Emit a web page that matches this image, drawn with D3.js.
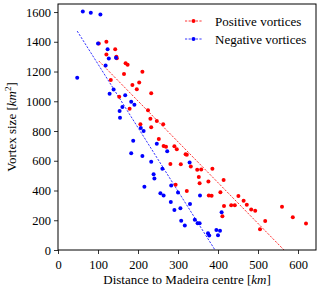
<!DOCTYPE html>
<html>
<head>
<meta charset="utf-8">
<script src="https://cdn.jsdelivr.net/npm/d3@7"></script>
<style>
  body { margin: 0; background: #fff; }
  svg { display: block; font-family: "Liberation Serif", "DejaVu Serif", serif; }
  svg text { font-family: "Liberation Serif", "DejaVu Serif", serif; }
</style>
</head>
<body>
<svg id="chart"></svg>
<script>
// distance to Madeira centre (km), vortex size (km^2)
const positiveX = [102, 121, 121, 143, 146, 147, 169, 174, 165, 211, 132, 203, 186, 197, 233, 153, 179, 225, 231, 247,
  263, 206, 233, 252, 264, 270, 291, 297, 319, 322, 281, 307, 332, 348, 358, 386, 352, 354, 376, 414,
  294, 322, 377, 384, 406, 415, 411, 433, 442, 451, 464, 472, 483, 493, 505, 518, 560, 587, 620];
const positiveY = [1389, 1401, 1315, 1349, 1300, 1290, 1255, 1245, 1184, 1199, 1143, 1126, 1110, 1080, 1054, 1031, 950, 940, 883, 867,
  845, 845, 826, 747, 699, 695, 698, 678, 643, 641, 579, 577, 562, 540, 542, 547, 490, 449, 461, 471,
  439, 396, 367, 364, 388, 296, 227, 301, 301, 363, 331, 305, 273, 264, 140, 195, 290, 221, 178];

const negativeX = [48, 62, 82, 106, 100, 124, 127, 145, 119, 139, 129, 168, 183, 191, 161, 154, 155, 207, 214, 188,
  247, 273, 183, 211, 233, 329, 261, 239, 241, 216, 283, 300, 256, 264, 355, 282, 330, 291, 306, 308,
  317, 342, 349, 354, 375, 378, 396, 405, 400, 409];
const negativeY = [1158, 1604, 1596, 1584, 1389, 1350, 1287, 1292, 1241, 1079, 1051, 1040, 997, 976, 961, 934, 889, 821, 800, 735,
  714, 664, 650, 632, 593, 588, 547, 510, 481, 426, 434, 386, 382, 367, 366, 322, 310, 269, 281, 196,
  165, 203, 180, 180, 112, 98, 135, 129, 100, 254];

// linear fits: [slope, intercept]
const positiveFit = [-2.745, 1551];
const negativeFit = [-4.272, 1677];

const xTicks = [0, 100, 200, 300, 400, 500, 600];
const yTicks = [0, 200, 400, 600, 800, 1000, 1200, 1400, 1600];

const seriesNames = ["Positive vortices", "Negative vortices"];
const seriesColors = ["#ff0000", "#0000ff"];

const dimensions = {
  width: 320,
  height: 292,
  margin: { top: 4, right: 4, bottom: 42, left: 58 }
};
const w = dimensions.width - dimensions.margin.left - dimensions.margin.right;
const h = dimensions.height - dimensions.margin.top - dimensions.margin.bottom;

const svg = d3.select("#chart")
  .attr("width", dimensions.width)
  .attr("height", dimensions.height);

const g = svg.append("g")
  .attr("transform", `translate(${dimensions.margin.left},${dimensions.margin.top})`);

const xScale = d3.scaleLinear().domain([0, 645]).range([0, w]);
const yScale = d3.scaleLinear().domain([0, 1654]).range([h, 0]);

svg.append("defs").append("clipPath").attr("id", "plotClip")
  .append("rect").attr("width", w).attr("height", h);

// axes
const axisX = d3.axisBottom(xScale).tickValues(xTicks).tickFormat(d3.format("d"))
  .tickSizeOuter(0).tickSize(4).tickPadding(3);
const axisY = d3.axisLeft(yScale).tickValues(yTicks).tickFormat(d3.format("d"))
  .tickSizeOuter(0).tickSize(4).tickPadding(3);

const gx = g.append("g").attr("transform", `translate(0,${h})`).call(axisX);
const gy = g.append("g").call(axisY);
[gx, gy].forEach(a => {
  a.attr("font-family", null).attr("font-size", 12.5);
  a.select(".domain").remove();
  a.selectAll("text").attr("fill", "#000");
  a.selectAll("line").attr("stroke", "#000").attr("stroke-width", 0.8);
});
gx.selectAll("text").attr("dy", "0.95em");

// fit lines
const plot = g.append("g").attr("clip-path", "url(#plotClip)");
const fits = [
  { fit: positiveFit, xs: positiveX, color: seriesColors[0] },
  { fit: negativeFit, xs: negativeX, color: seriesColors[1] }
];
fits.forEach(f => {
  const ends = d3.extent(f.xs);
  plot.append("path")
    .datum(ends)
    .attr("d", d3.line()
      .x(d => xScale(d))
      .y(d => yScale(f.fit[0] * d + f.fit[1])))
    .attr("stroke", f.color)
    .attr("stroke-width", 0.8)
    .attr("stroke-dasharray", "2.2,1.4")
    .attr("fill", "none");
});

// points
function drawPoints(xs, ys, color) {
  plot.append("g").selectAll("circle")
    .data(xs.map((x, i) => ({ x, y: ys[i] })))
    .join("circle")
    .attr("cx", d => xScale(d.x))
    .attr("cy", d => yScale(d.y))
    .attr("r", 2)
    .attr("fill", color);
}
drawPoints(positiveX, positiveY, seriesColors[0]);
drawPoints(negativeX, negativeY, seriesColors[1]);

// frame
g.append("rect")
  .attr("width", w).attr("height", h)
  .attr("fill", "none").attr("stroke", "#000").attr("stroke-width", 1);

// legend
const legend = svg.append("g").attr("transform", "translate(185,21)");
seriesNames.forEach((name, i) => {
  const row = legend.append("g").attr("transform", `translate(0,${i * 18})`);
  row.append("line")
    .attr("x1", 0).attr("x2", 17)
    .attr("stroke", seriesColors[i]).attr("stroke-width", 0.8)
    .attr("stroke-dasharray", "2.2,1.4");
  row.append("circle").attr("cx", 8.5).attr("r", 2).attr("fill", seriesColors[i]);
  row.append("text")
    .attr("x", 30).attr("dy", "0.35em")
    .attr("font-size", 13)
    .text(name);
});

// axis labels
svg.append("text")
  .attr("x", dimensions.margin.left + w / 2)
  .attr("y", 284)
  .attr("text-anchor", "middle")
  .attr("font-size", 13)
  .call(t => {
    t.append("tspan").text("Distance to Madeira centre [");
    t.append("tspan").attr("font-style", "italic").text("km");
    t.append("tspan").text("]");
  });

svg.append("text")
  .attr("transform", `translate(16,${dimensions.margin.top + h / 2}) rotate(-90)`)
  .attr("text-anchor", "middle")
  .attr("font-size", 13)
  .call(t => {
    t.append("tspan").text("Vortex size [");
    t.append("tspan").attr("font-style", "italic").text("km");
    t.append("tspan").attr("font-size", 9).attr("dy", -5).text("2");
    t.append("tspan").attr("dy", 5).text("]");
  });
</script>
</body>
</html>
